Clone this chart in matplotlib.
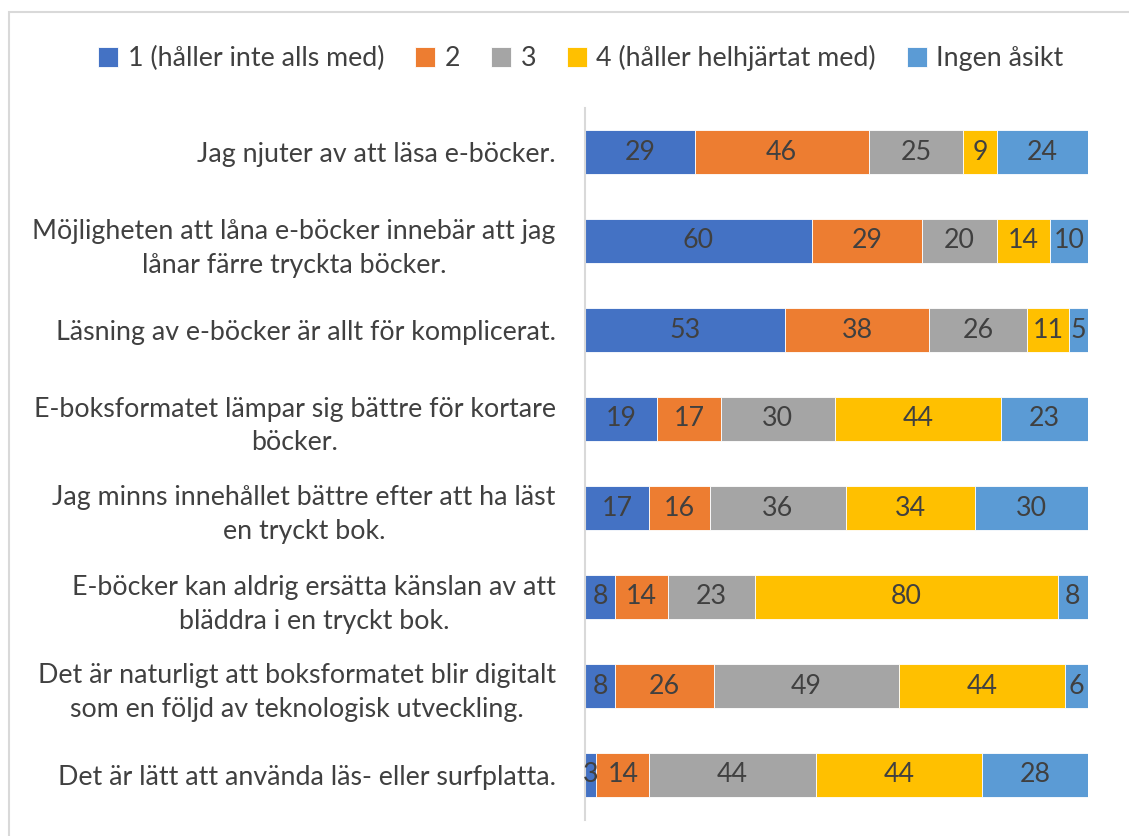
import numpy as np
import matplotlib.pyplot as plt
from matplotlib.patches import Rectangle

plt.rcParams['font.family'] = ['Lato', 'DejaVu Sans']

statements = [
    "Jag njuter av att läsa e-böcker.",
    "Möjligheten att låna e-böcker innebär att jag\nlånar färre tryckta böcker.",
    "Läsning av e-böcker är allt för komplicerat.",
    "E-boksformatet lämpar sig bättre för kortare\nböcker.",
    "Jag minns innehållet bättre efter att ha läst\nen tryckt bok.",
    "E-böcker kan aldrig ersätta känslan av att\nbläddra i en tryckt bok.",
    "Det är naturligt att boksformatet blir digitalt\nsom en följd av teknologisk utveckling.",
    "Det är lätt att använda läs- eller surfplatta.",
]
series_names = ["1 (håller inte alls med)", "2", "3",
                "4 (håller helhjärtat med)", "Ingen åsikt"]
s1 = [29, 60, 53, 19, 17, 8, 8, 3]
s2 = [46, 29, 38, 17, 16, 14, 26, 14]
s3 = [25, 20, 26, 30, 36, 23, 49, 44]
s4 = [9, 14, 11, 44, 34, 80, 44, 44]
s5 = [24, 10, 5, 23, 30, 8, 6, 28]
colors = ["#4472C4", "#ED7D31", "#A5A5A5", "#FFC000", "#5B9BD5"]

W, H = 1129, 836
fs = 19.3
fig = plt.figure(figsize=(W / 100, H / 100), dpi=100)
ax = fig.add_axes([585 / W, 1 - 819.5 / H, (1088 - 585) / W, (819.5 - 107.5) / H])

y = np.arange(len(statements))
left = np.zeros(len(statements))
for vals, name, c in zip([s1, s2, s3, s4, s5], series_names, colors):
    vals = np.array(vals)
    bars = ax.barh(y, vals, left=left, height=0.505, color=c, label=name,
                   edgecolor='white', linewidth=0.6)
    ax.bar_label(bars, labels=[str(v) for v in vals], label_type='center',
                 color='#404040', fontsize=fs)
    left += vals

ax.set_xlim(0, left.max())
ax.set_ylim(len(statements) - 0.5, -0.5)
ax.set_yticks(y)
ax.set_yticklabels(statements, fontsize=fs, color='#404040',
                   multialignment='center', linespacing=1.45)
ax.tick_params(axis='y', length=0, pad=21)
ax.set_xticks([])
for sp in ['top', 'right', 'bottom']:
    ax.spines[sp].set_visible(False)
ax.spines['left'].set_color('#D9D9D9')
ax.spines['left'].set_linewidth(1.5)

fig.legend(loc='center', bbox_to_anchor=(581 / W, 1 - 58 / H), ncol=5,
           frameon=False, fontsize=fs, labelcolor='#404040',
           handlelength=0.75, handleheight=0.75, handletextpad=0.35,
           columnspacing=1.15)

fig.add_artist(Rectangle((9 / W, -0.1), 1.2, 1.1 - 12 / H, fill=False,
                         edgecolor='#D9D9D9', linewidth=1.5,
                         transform=fig.transFigure))

fig.savefig('out.png', dpi=100)
